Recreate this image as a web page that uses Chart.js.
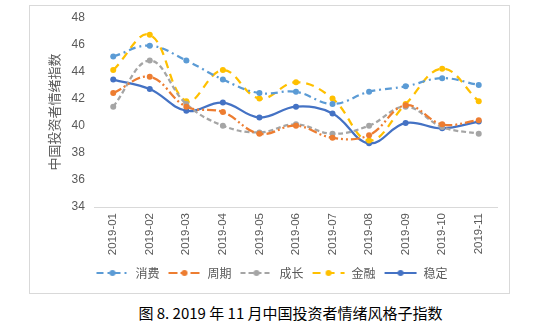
<!DOCTYPE html>
<html>
<head>
<meta charset="utf-8">
<script src="https://cdn.jsdelivr.net/npm/chart.js@4.4.1/dist/chart.umd.min.js"></script>
<style>
    body { margin: 0; background: #fff; width: 537px; height: 325px; position: relative; overflow: hidden; }
    #frame { position: absolute; left: 29px; top: 5px; width: 479px; height: 287px; border: 1px solid #d9d9d9; }
    #wrap { position: absolute; left: 0; top: 0; width: 537px; height: 293px; }
    #caption { position: absolute; left: 0; width: 537px; top: 302px; text-align: center; font-family: "Noto Sans CJK SC", sans-serif; font-size: 15px; color: #000; padding-left: 44px; box-sizing: border-box; }
</style>
</head>
<body>
<div id="frame"></div>
<div id="wrap"><canvas id="styleChart" width="537" height="293"></canvas></div>
<div id="caption">图 8. 2019 年 11 月中国投资者情绪风格子指数</div>
<script>
// ============ DONNEES ============
const months = ['2019-01','2019-02','2019-03','2019-04','2019-05','2019-06','2019-07','2019-08','2019-09','2019-10','2019-11'];
const consumption = [45.1, 45.9, 44.8, 43.4, 42.4, 42.5, 41.6, 42.5, 42.9, 43.5, 43.0];
const cyclical   = [42.4, 43.6, 41.4, 41.0, 39.4, 40.0, 39.1, 39.3, 41.5, 40.1, 40.4];
const growth     = [41.4, 44.8, 41.6, 40.0, 39.5, 40.1, 39.4, 40.0, 41.4, 39.9, 39.4];
const finance    = [44.1, 46.7, 41.8, 44.1, 42.0, 43.2, 42.0, 38.9, 41.6, 44.2, 41.8];
const stable     = [43.4, 42.7, 41.1, 41.7, 40.6, 41.4, 40.9, 38.7, 40.2, 39.8, 40.3];
const seriesNames = ['消费', '周期', '成长', '金融', '稳定'];
const yTicks = [34, 36, 38, 40, 42, 44, 46, 48];

const colors = ['#5B9BD5', '#ED7D31', '#A5A5A5', '#FFC000', '#4472C4'];
const dashes = [[7, 4, 2, 4], [9, 3, 2, 3, 2, 3], [5, 3], [8, 6], []];

// petite icone de légende : trait + point
function legendIcon(color, dash) {
    const c = document.createElement('canvas');
    c.width = 34; c.height = 8;
    const ctx = c.getContext('2d');
    ctx.strokeStyle = color;
    ctx.lineWidth = 2;
    ctx.setLineDash(dash);
    ctx.beginPath();
    ctx.moveTo(1, 4); ctx.lineTo(33, 4);
    ctx.stroke();
    ctx.fillStyle = color;
    ctx.beginPath();
    ctx.arc(17, 4, 3, 0, Math.PI * 2);
    ctx.fill();
    return c;
}

const allData = [consumption, cyclical, growth, finance, stable];
const datasets = allData.map((d, i) => ({
    label: seriesNames[i],
    data: d,
    borderColor: colors[i],
    backgroundColor: colors[i],
    borderWidth: 2.25,
    borderDash: dashes[i],
    pointRadius: 3,
    pointBorderWidth: 0,
    pointBackgroundColor: colors[i],
    tension: 0.4,
    fill: false
}));
const icons = colors.map((c, i) => legendIcon(c, dashes[i]));

new Chart(document.getElementById('styleChart').getContext('2d'), {
    type: 'line',
    data: { labels: months, datasets: datasets },
    options: {
        responsive: false,
        animation: false,
        devicePixelRatio: 1,
        layout: { padding: { left: 46, right: 40, top: 15, bottom: 4 } },
        plugins: {
            tooltip: { enabled: false },
            legend: {
                position: 'bottom',
                labels: {
                    usePointStyle: true,
                    pointStyleWidth: 34,
                    padding: 8,
                    color: '#595959',
                    font: { family: '"Noto Sans CJK SC", sans-serif', size: 12 },
                    generateLabels: (chart) => Chart.defaults.plugins.legend.labels.generateLabels(chart)
                        .map((l, i) => Object.assign(l, { pointStyle: icons[i], lineWidth: 0 }))
                }
            }
        },
        scales: {
            x: {
                offset: true,
                grid: { display: false, drawTicks: false },
                border: { display: true, color: '#d9d9d9', width: 1 },
                ticks: {
                    minRotation: 90, maxRotation: 90, padding: 6,
                    color: '#595959',
                    font: { family: '"Liberation Sans", sans-serif', size: 11.5 }
                },
                afterFit: (scale) => { scale.height = 52; }
            },
            y: {
                min: 34, max: 48,
                afterBuildTicks: (scale) => { scale.ticks = yTicks.map(v => ({ value: v })); },
                grid: { display: false, drawTicks: false },
                border: { display: false },
                ticks: {
                    padding: 10,
                    color: '#595959',
                    font: { family: '"Liberation Sans", sans-serif', size: 12 }
                },
                title: {
                    display: true,
                    text: '中国投资者情绪指数',
                    color: '#595959',
                    padding: 0,
                    font: { family: '"Noto Sans CJK SC", sans-serif', size: 13 }
                }
            }
        }
    }
});
</script>
</body>
</html>
